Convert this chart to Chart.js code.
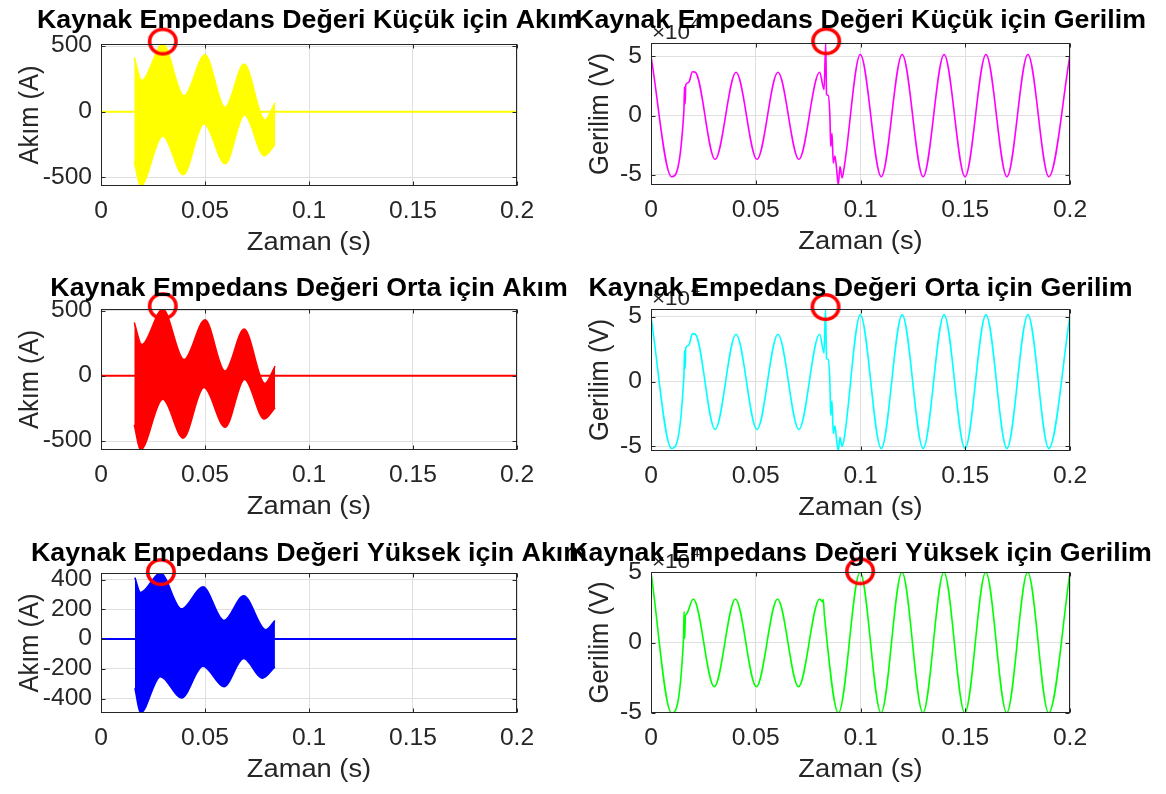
<!DOCTYPE html>
<html><head><meta charset="utf-8">
<script src="https://cdn.jsdelivr.net/npm/chart.js@4.4.1/dist/chart.umd.min.js"></script>
<style>
html,body{margin:0;padding:0;background:#fff}
body{width:1166px;height:794px;position:relative;overflow:hidden}
canvas{position:absolute}
</style></head><body>
<canvas id="c0"></canvas><canvas id="c1"></canvas><canvas id="c2"></canvas>
<canvas id="c3"></canvas><canvas id="c4"></canvas><canvas id="c5"></canvas>
<script>
// ---------------- DATA ----------------
const xTicks = [0, 0.05, 0.1, 0.15, 0.2];
const xTickLabels = ['0', '0.05', '0.1', '0.15', '0.2'];
const akimTicks500 = [-500, 0, 500];
const akimTicks200 = [-400, -200, 0, 200, 400];
const gerilimTicks = [-5, 0, 5];           // x10^4 V

const titles = [
  'Kaynak Empedans Değeri Küçük için Akım',
  'Kaynak Empedans Değeri Küçük için Gerilim',
  'Kaynak Empedans Değeri Orta için Akım',
  'Kaynak Empedans Değeri Orta için Gerilim',
  'Kaynak Empedans Değeri Yüksek için Akım',
  'Kaynak Empedans Değeri Yüksek için Gerilim'
];
const xLabel = 'Zaman (s)';
const akimLabel = 'Akım (A)';
const gerilimLabel = 'Gerilim (V)';

// zero current (before / after fault)
const sifirT = [0, 0.2];
const sifirA = [0, 0];

// current envelopes (A) - small source impedance
const kucukUstT = [0.0160, 0.0196, 0.0297, 0.0399, 0.0500, 0.0596, 0.0688, 0.0788, 0.0837];
const kucukUstA = [414, 237, 516, 122, 435, 33, 364, -63, 70];
const kucukAltT = [0.0160, 0.0190, 0.0297, 0.0395, 0.0495, 0.0597, 0.0690, 0.0785, 0.0837];
const kucukAltA = [-380, -566, -185, -480, -92, -397, -25, -336, -250];
// medium
const ortaUstT = [0.0160, 0.0196, 0.0297, 0.0399, 0.0500, 0.0596, 0.0688, 0.0788, 0.0837];
const ortaUstA = [410, 240, 513, 125, 430, 38, 360, -58, 75];
const ortaAltT = [0.0160, 0.0190, 0.0297, 0.0395, 0.0495, 0.0597, 0.0690, 0.0785, 0.0837];
const ortaAltA = [-375, -569, -180, -478, -90, -395, -28, -332, -245];
// high
const yuksekUstT = [0.0163, 0.0190, 0.0286, 0.0387, 0.0490, 0.0591, 0.0686, 0.0793, 0.0836];
const yuksekUstA = [413, 313, 444, 203, 351, 125, 291, 63, 125];
const yuksekAltT = [0.0163, 0.0190, 0.0286, 0.0387, 0.0490, 0.0591, 0.0686, 0.0775, 0.0836];
const yuksekAltA = [-330, -497, -253, -397, -182, -320, -131, -264, -187];

// voltages (x10^4 V)
const kucukGerT = [0, 0.0098, 0.0157, 0.0160, 0.0163, 0.0166, 0.0180, 0.0198, 0.0212, 0.0306, 0.0406, 0.0506, 0.0606, 0.0706, 0.0805, 0.0826, 0.0834, 0.0838, 0.0846, 0.0854, 0.0858, 0.0864, 0.0870, 0.0878, 0.0886, 0.0894, 0.0902, 0.0912, 0.0921, 0.0999, 0.1099, 0.1199, 0.1299, 0.1399, 0.1499, 0.1599, 0.1699, 0.1799, 0.1899, 0.2];
const kucukGerV = [5.0, -5.15, 0.4, 2.4, 1.0, 2.6, 2.8, 3.7, 3.65, -3.7, 3.65, -3.7, 3.65, -3.7, 3.65, 2.2, 6.1, 1.8, 1.7, -0.1, -2.6, -1.5, -4.0, -3.4, -4.5, -5.85, -4.3, -5.25, -4.5, 5.15, -5.15, 5.15, -5.15, 5.15, -5.15, 5.15, -5.15, 5.15, -5.15, 5.1];
const ortaGerT = [0, 0.0098, 0.0157, 0.0160, 0.0163, 0.0166, 0.0180, 0.0198, 0.0212, 0.0306, 0.0406, 0.0506, 0.0606, 0.0706, 0.0805, 0.0826, 0.0833, 0.0838, 0.0846, 0.0854, 0.0858, 0.0864, 0.0870, 0.0878, 0.0886, 0.0894, 0.0902, 0.0912, 0.0921, 0.0999, 0.1099, 0.1199, 0.1299, 0.1399, 0.1499, 0.1599, 0.1699, 0.1799, 0.1899, 0.2];
const ortaGerV = [5.0, -5.15, 0.4, 2.4, 1.0, 2.6, 2.8, 3.7, 3.65, -3.7, 3.65, -3.7, 3.65, -3.7, 3.65, 2.2, 5.6, 1.8, 1.7, -0.1, -2.6, -1.5, -4.0, -3.4, -4.5, -5.35, -4.3, -5.0, -4.5, 5.15, -5.15, 5.15, -5.15, 5.15, -5.15, 5.15, -5.15, 5.15, -5.15, 5.1];
const yuksekGerT = [0, 0.0098, 0.0155, 0.0158, 0.0161, 0.0164, 0.0168, 0.0202, 0.0302, 0.0403, 0.0503, 0.0604, 0.0704, 0.0805, 0.0818, 0.0822, 0.0828, 0.0895, 0.0998, 0.1098, 0.1198, 0.1298, 0.1398, 0.1498, 0.1598, 0.1698, 0.1798, 0.1898, 0.2];
const yuksekGerV = [5.0, -5.02, 0.2, 2.2, 0.3, 1.9, 2.0, 3.1, -3.15, 3.1, -3.15, 3.1, -3.15, 3.1, 2.9, 3.05, 1.9, -5.02, 5.0, -5.02, 5.0, -5.02, 5.0, -5.02, 5.0, -5.02, 5.0, -5.02, 5.0];

// red circle markers (maximum points)
const akimMaxT = [0.0297, 0.0297, 0.0288];
const akimMaxA = [535, 535, 450];
const gerilimMaxT = [0.0836, 0.0833, 0.0998];
const gerilimMaxV = [6.27, 5.75, 5.07];

// axis limits
const akimMin = [-566, -569, -497];
const akimMax = [516, 513, 444];
const gerilimMin = [-5.85, -5.35, -5.02];
const gerilimMax = [6.12, 5.6, 5.02];

// ---------------- DRAWING ----------------
const SX = 1.07;
const FONT = "'Liberation Sans', Arial, Helvetica, sans-serif";
const AXC = '#262626';

function pts(tArr, vArr) { return tArr.map((t, i) => ({ x: t, y: vArr[i] })); }

function ellipseMarker() {
  const c = document.createElement('canvas');
  c.width = 36; c.height = 34;
  const g = c.getContext('2d');
  g.strokeStyle = '#ff0000'; g.lineWidth = 3.6;
  g.beginPath(); g.ellipse(18, 17, 13.2, 12.3, 0, 0, Math.PI * 2); g.stroke();
  return c;
}
const MARK = ellipseMarker();

function txt(ctx, s, x, y, align, base, font, color, rot) {
  ctx.save();
  ctx.font = font; ctx.fillStyle = color; ctx.textAlign = align; ctx.textBaseline = base;
  ctx.translate(x, y); ctx.scale(SX, 1); if (rot) ctx.rotate(rot);
  ctx.fillText(s, 0, 0);
  ctx.restore();
}

const decor = {
  id: 'decor',
  afterDatasetsDraw(chart) {
    const a = chart.chartArea, ctx = chart.ctx, sp = chart.options.plugins.decor;
    ctx.save();
    ctx.strokeStyle = AXC; ctx.lineWidth = 1;
    const L = Math.round(a.left) + 0.5, R = Math.round(a.right) - 0.5, T = Math.round(a.top) + 0.5, B = Math.round(a.bottom) - 0.5;
    ctx.strokeRect(L, T, R - L, B - T);
    ctx.beginPath();
    xTicks.forEach(v => { const p = Math.round(chart.scales.x.getPixelForValue(v)) + 0.5; ctx.moveTo(p, B); ctx.lineTo(p, B - 4); ctx.moveTo(p, T); ctx.lineTo(p, T + 4); });
    sp.yTicks.forEach(v => { const p = Math.round(chart.scales.y.getPixelForValue(v)) + 0.5; ctx.moveTo(L, p); ctx.lineTo(L + 4, p); ctx.moveTo(R, p); ctx.lineTo(R - 4, p); });
    ctx.stroke();
    ctx.restore();
  },
  afterDraw(chart) {
    const a = chart.chartArea, ctx = chart.ctx, sp = chart.options.plugins.decor;
    const tickF = '23px ' + FONT, labF = '25.5px ' + FONT, titF = 'bold 25px ' + FONT;
    const cx = (a.left + a.right) / 2, cy = (a.top + a.bottom) / 2;
    xTicks.forEach((v, i) => txt(ctx, xTickLabels[i], chart.scales.x.getPixelForValue(v), a.bottom + 26, 'center', 'middle', tickF, AXC));
    sp.yTicks.forEach(v => txt(ctx, String(v), a.left - 9, chart.scales.y.getPixelForValue(v), 'right', 'middle', tickF, AXC));
    txt(ctx, xLabel, cx, a.bottom + 57, 'center', 'middle', labF, AXC);
    txt(ctx, sp.ylabel, a.left - sp.ylabOff, cy, 'center', 'middle', labF, AXC, -Math.PI / 2);
    if (sp.expo) {
      txt(ctx, '×10', a.left + 1, a.top - 4, 'left', 'alphabetic', '21px ' + FONT, AXC);
      txt(ctx, '4', a.left + 40, a.top - 15, 'left', 'alphabetic', '15px ' + FONT, AXC);
    }
    txt(ctx, sp.title, cx, a.top - sp.titOff, 'center', 'alphabetic', titF, '#000');
  }
};

const plots = [
  { id: 'c0', area: [101, 44, 517, 186], col: 0, kind: 'akim', color: '#ffff00', ust: [kucukUstT, kucukUstA], alt: [kucukAltT, kucukAltA], yMin: akimMin[0], yMax: akimMax[0], yTicks: akimTicks500, mark: [akimMaxT[0], akimMaxA[0]], title: titles[0], titOff: 16 },
  { id: 'c1', area: [651, 43, 1070, 185], col: 1, kind: 'ger', color: '#ff00ff', ger: [kucukGerT, kucukGerV], yMin: gerilimMin[0], yMax: gerilimMax[0], yTicks: gerilimTicks, mark: [gerilimMaxT[0], gerilimMaxV[0]], title: titles[1], titOff: 15 },
  { id: 'c2', area: [101, 309, 517, 450], col: 0, kind: 'akim', color: '#ff0000', ust: [ortaUstT, ortaUstA], alt: [ortaAltT, ortaAltA], yMin: akimMin[1], yMax: akimMax[1], yTicks: akimTicks500, mark: [akimMaxT[1], akimMaxA[1]], title: titles[2], titOff: 13 },
  { id: 'c3', area: [651, 309, 1070, 451], col: 1, kind: 'ger', color: '#00ffff', ger: [ortaGerT, ortaGerV], yMin: gerilimMin[1], yMax: gerilimMax[1], yTicks: gerilimTicks, mark: [gerilimMaxT[1], gerilimMaxV[1]], title: titles[3], titOff: 13 },
  { id: 'c4', area: [101, 573, 517, 713], col: 0, kind: 'akim', color: '#0000ff', ust: [yuksekUstT, yuksekUstA], alt: [yuksekAltT, yuksekAltA], yMin: akimMin[2], yMax: akimMax[2], yTicks: akimTicks200, mark: [akimMaxT[2], akimMaxA[2]], title: titles[4], titOff: 12 },
  { id: 'c5', area: [651, 572, 1070, 713], col: 1, kind: 'ger', color: '#00ff00', ger: [yuksekGerT, yuksekGerV], yMin: gerilimMin[2], yMax: gerilimMax[2], yTicks: gerilimTicks, mark: [gerilimMaxT[2], gerilimMaxV[2]], title: titles[5], titOff: 11 }
];

plots.forEach(p => {
  const [L, T, R, B] = p.area;
  const cl = L - 101, ct = T - 44;
  const cw = p.col === 0 ? 640 : 1166 - cl;
  const ch = (B - T) + 44 + 80;
  const cv = document.getElementById(p.id);
  cv.width = cw; cv.height = ch;
  cv.style.left = cl + 'px'; cv.style.top = ct + 'px';
  cv.style.width = cw + 'px'; cv.style.height = ch + 'px';

  const markerDs = {
    data: [{ x: p.mark[0], y: p.mark[1] }], showLine: false, pointStyle: MARK, pointRadius: 12,
    pointBorderWidth: 0, clip: false
  };
  let datasets;
  if (p.kind === 'akim') {
    datasets = [
      markerDs,
      { data: pts(sifirT, sifirA), borderColor: p.color, borderWidth: 2, pointRadius: 0, fill: false, clip: 0 },
      { data: pts(p.ust[0], p.ust[1]), borderColor: p.color, backgroundColor: p.color, borderWidth: 1.5, pointRadius: 0,
        cubicInterpolationMode: 'monotone', fill: 3, clip: 0 },
      { data: pts(p.alt[0], p.alt[1]), borderColor: p.color, borderWidth: 1.5, pointRadius: 0,
        cubicInterpolationMode: 'monotone', fill: false, clip: 0 }
    ];
  } else {
    datasets = [
      markerDs,
      { data: pts(p.ger[0], p.ger[1]), borderColor: p.color, borderWidth: 1.6, pointRadius: 0,
        cubicInterpolationMode: 'monotone', fill: false, clip: 0 }
    ];
  }

  new Chart(cv, {
    type: 'line',
    data: { datasets },
    plugins: [decor],
    options: {
      responsive: false, animation: false, events: [],
      layout: { padding: { left: 0, top: 44, right: cw - (R - cl), bottom: 0 } },
      plugins: {
        legend: { display: false }, title: { display: false }, tooltip: { enabled: false },
        decor: { yTicks: p.yTicks, ylabel: p.kind === 'akim' ? akimLabel : gerilimLabel,
                 ylabOff: p.kind === 'akim' ? 71 : 51, expo: p.kind === 'ger', title: p.title, titOff: p.titOff }
      },
      scales: {
        x: {
          type: 'linear', min: 0, max: 0.2,
          afterBuildTicks: s => { s.ticks = xTicks.map(v => ({ value: v })); },
          afterFit: s => { s.height = ch - (B - ct); },
          ticks: { display: false },
          grid: { color: '#dfdfdf', lineWidth: 1, drawTicks: false },
          border: { display: false }
        },
        y: {
          type: 'linear', min: p.yMin, max: p.yMax,
          afterBuildTicks: s => { s.ticks = p.yTicks.map(v => ({ value: v })); },
          afterFit: s => { s.width = L - cl; },
          ticks: { display: false },
          grid: { color: '#dfdfdf', lineWidth: 1, drawTicks: false },
          border: { display: false }
        }
      }
    }
  });
});
</script>
</body></html>
